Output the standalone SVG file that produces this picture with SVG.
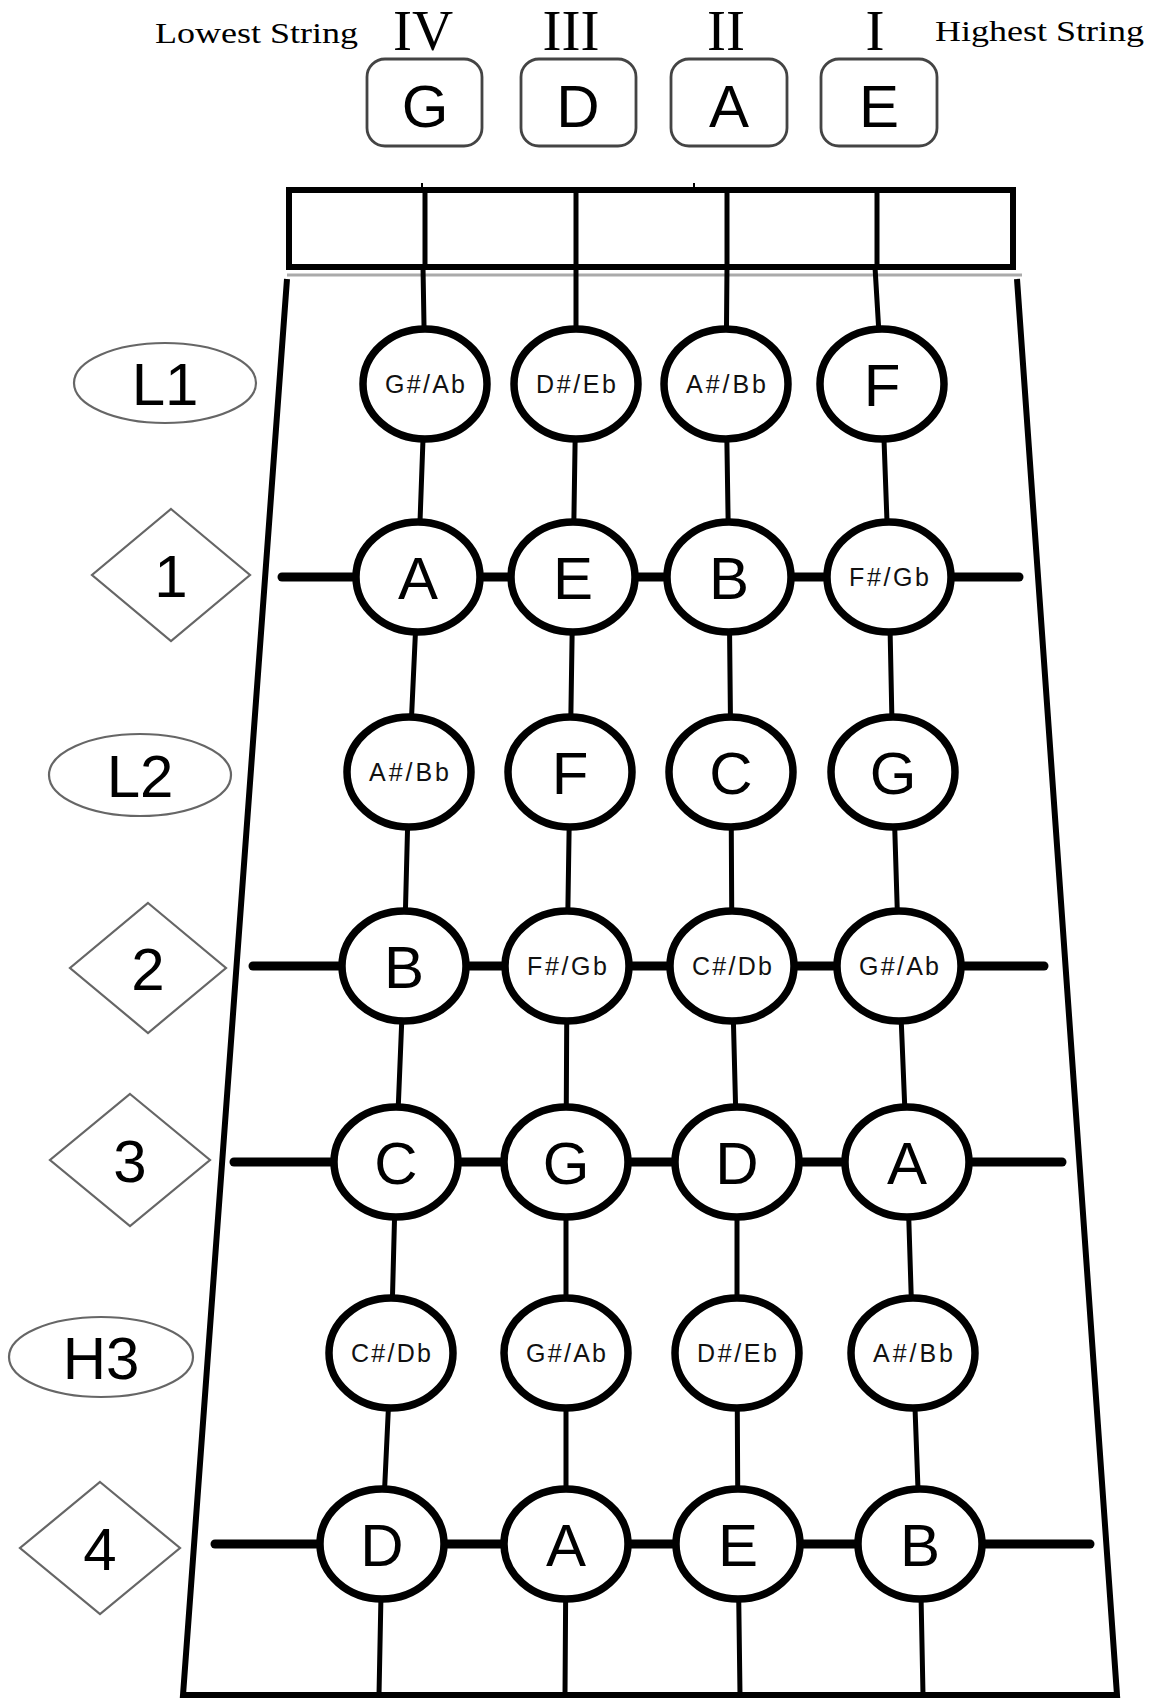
<svg xmlns="http://www.w3.org/2000/svg" width="1154" height="1700" viewBox="0 0 1154 1700">
<style>
.bg{fill:#fff}
.roman{font-family:"Liberation Serif",serif;font-size:57px;fill:#000;text-anchor:middle}
.side{font-family:"Liberation Serif",serif;font-size:30px;fill:#000}
.box{fill:#fff;stroke:#444;stroke-width:2.8}
.boxt{font-family:"Liberation Sans",Arial,sans-serif;font-size:60px;fill:#000;text-anchor:middle}
.lab{fill:#fff;stroke:#666;stroke-width:2.2}
.labt{font-family:"Liberation Sans",Arial,sans-serif;font-size:60px;fill:#000;text-anchor:middle}
.note{fill:#fff;stroke:#000;stroke-width:7.5}
.big{font-family:"Liberation Sans",Arial,sans-serif;font-size:60px;fill:#000;text-anchor:middle}
.sm{font-family:"Liberation Sans",Arial,sans-serif;font-size:25px;fill:#111;text-anchor:middle}
.str{stroke:#000;stroke-width:5;fill:none}
.fret{stroke:#000;stroke-width:9;stroke-linecap:round}
.board{stroke:#000;stroke-width:6;fill:none}
</style>
<rect class="bg" x="0" y="0" width="1154" height="1700"/>

<g id="header">
  <text class="side" x="155" y="43" textLength="203" lengthAdjust="spacingAndGlyphs">Lowest String</text>
  <text class="side" x="935" y="41" textLength="209" lengthAdjust="spacingAndGlyphs">Highest String</text>
  <text class="roman" x="423" y="50">IV</text>
  <text class="roman" x="571" y="50">III</text>
  <text class="roman" x="726" y="50">II</text>
  <text class="roman" x="875" y="50">I</text>
</g>

<g id="open-G"><rect class="box" x="367" y="59" width="115" height="87" rx="18"/><text class="boxt" x="425" y="127">G</text></g>
<g id="open-D"><rect class="box" x="521" y="59" width="115" height="87" rx="18"/><text class="boxt" x="578" y="127">D</text></g>
<g id="open-A"><rect class="box" x="671" y="59" width="116" height="87" rx="18"/><text class="boxt" x="729" y="127">A</text></g>
<g id="open-E"><rect class="box" x="821" y="59" width="116" height="87" rx="18"/><text class="boxt" x="879" y="127">E</text></g>

<g id="nut">
  <rect x="289" y="190" width="724" height="77" fill="#fff" stroke="#000" stroke-width="6"/>
  <line x1="425" y1="190" x2="425" y2="267" stroke="#000" stroke-width="5"/>
  <line x1="576" y1="190" x2="576" y2="267" stroke="#000" stroke-width="5"/>
  <line x1="727" y1="190" x2="727" y2="267" stroke="#000" stroke-width="5"/>
  <line x1="877" y1="190" x2="877" y2="267" stroke="#000" stroke-width="5"/>
  <line x1="422" y1="183" x2="422" y2="188" stroke="#000" stroke-width="2"/>
  <line x1="694" y1="183" x2="694" y2="188" stroke="#000" stroke-width="2"/>
</g>

<g id="fingerboard">
  <line x1="287" y1="275" x2="1022" y2="275" stroke="#aaa" stroke-width="3"/>
  <polyline class="board" points="287,279 183,1695 1117,1695 1017,279"/>
</g>

<g id="connectors">
  <polyline class="str" points="423,267 425,384 418,577 409,772 404,966 396,1162 391,1353 382,1544 379,1695"/>
  <polyline class="str" points="576,267 576,384 573,577 570,772 567,966 566,1162 566,1353 566,1544 565,1695"/>
  <polyline class="str" points="727,267 726,384 729,577 731,772 732,966 737,1162 737,1353 738,1544 740,1695"/>
  <polyline class="str" points="875,267 882,384 889,577 893,772 899,966 907,1162 913,1353 920,1544 923,1695"/>
  <line class="fret" x1="282" y1="577" x2="1019" y2="577"/>
  <line class="fret" x1="253" y1="966" x2="1044" y2="966"/>
  <line class="fret" x1="234" y1="1162" x2="1062" y2="1162"/>
  <line class="fret" x1="215" y1="1544" x2="1090" y2="1544"/>
</g>

<g id="label-L1"><ellipse class="lab" cx="165" cy="383" rx="91" ry="40"/><text class="labt" x="165" y="405">L1</text></g>
<g id="label-1"><polygon class="lab" points="171,509 250,575 171,641 92,575"/><text class="labt" x="171" y="597">1</text></g>
<g id="label-L2"><ellipse class="lab" cx="140" cy="775" rx="91" ry="41"/><text class="labt" x="140" y="797">L2</text></g>
<g id="label-2"><polygon class="lab" points="148,903 226,968 148,1033 70,968"/><text class="labt" x="148" y="990">2</text></g>
<g id="label-3"><polygon class="lab" points="130,1094 210,1160 130,1226 50,1160"/><text class="labt" x="130" y="1182">3</text></g>
<g id="label-H3"><ellipse class="lab" cx="101" cy="1357" rx="92" ry="40"/><text class="labt" x="101" y="1379">H3</text></g>
<g id="label-4"><polygon class="lab" points="100,1482 180,1548 100,1614 20,1548"/><text class="labt" x="100" y="1570">4</text></g>

<g id="n-L1-G"><ellipse class="note" cx="425" cy="384" rx="62" ry="55"/><text class="sm" x="425" y="393" textLength="80" lengthAdjust="spacing">G#/Ab</text></g>
<g id="n-L1-D"><ellipse class="note" cx="576" cy="384" rx="62" ry="55"/><text class="sm" x="576" y="393" textLength="80" lengthAdjust="spacing">D#/Eb</text></g>
<g id="n-L1-A"><ellipse class="note" cx="726" cy="384" rx="62" ry="55"/><text class="sm" x="726" y="393" textLength="80" lengthAdjust="spacing">A#/Bb</text></g>
<g id="n-L1-E"><ellipse class="note" cx="882" cy="384" rx="62" ry="55"/><text class="big" x="882" y="406">F</text></g>

<g id="n-1-G"><ellipse class="note" cx="418" cy="577" rx="62" ry="55"/><text class="big" x="418" y="599">A</text></g>
<g id="n-1-D"><ellipse class="note" cx="573" cy="577" rx="62" ry="55"/><text class="big" x="573" y="599">E</text></g>
<g id="n-1-A"><ellipse class="note" cx="729" cy="577" rx="62" ry="55"/><text class="big" x="729" y="599">B</text></g>
<g id="n-1-E"><ellipse class="note" cx="889" cy="577" rx="62" ry="55"/><text class="sm" x="889" y="586" textLength="80" lengthAdjust="spacing">F#/Gb</text></g>

<g id="n-L2-G"><ellipse class="note" cx="409" cy="772" rx="62" ry="55"/><text class="sm" x="409" y="781" textLength="80" lengthAdjust="spacing">A#/Bb</text></g>
<g id="n-L2-D"><ellipse class="note" cx="570" cy="772" rx="62" ry="55"/><text class="big" x="570" y="794">F</text></g>
<g id="n-L2-A"><ellipse class="note" cx="731" cy="772" rx="62" ry="55"/><text class="big" x="731" y="794">C</text></g>
<g id="n-L2-E"><ellipse class="note" cx="893" cy="772" rx="62" ry="55"/><text class="big" x="893" y="794">G</text></g>

<g id="n-2-G"><ellipse class="note" cx="404" cy="966" rx="62" ry="55"/><text class="big" x="404" y="988">B</text></g>
<g id="n-2-D"><ellipse class="note" cx="567" cy="966" rx="62" ry="55"/><text class="sm" x="567" y="975" textLength="80" lengthAdjust="spacing">F#/Gb</text></g>
<g id="n-2-A"><ellipse class="note" cx="732" cy="966" rx="62" ry="55"/><text class="sm" x="732" y="975" textLength="80" lengthAdjust="spacing">C#/Db</text></g>
<g id="n-2-E"><ellipse class="note" cx="899" cy="966" rx="62" ry="55"/><text class="sm" x="899" y="975" textLength="80" lengthAdjust="spacing">G#/Ab</text></g>

<g id="n-3-G"><ellipse class="note" cx="396" cy="1162" rx="62" ry="55"/><text class="big" x="396" y="1184">C</text></g>
<g id="n-3-D"><ellipse class="note" cx="566" cy="1162" rx="62" ry="55"/><text class="big" x="566" y="1184">G</text></g>
<g id="n-3-A"><ellipse class="note" cx="737" cy="1162" rx="62" ry="55"/><text class="big" x="737" y="1184">D</text></g>
<g id="n-3-E"><ellipse class="note" cx="907" cy="1162" rx="62" ry="55"/><text class="big" x="907" y="1184">A</text></g>

<g id="n-H3-G"><ellipse class="note" cx="391" cy="1353" rx="62" ry="55"/><text class="sm" x="391" y="1362" textLength="80" lengthAdjust="spacing">C#/Db</text></g>
<g id="n-H3-D"><ellipse class="note" cx="566" cy="1353" rx="62" ry="55"/><text class="sm" x="566" y="1362" textLength="80" lengthAdjust="spacing">G#/Ab</text></g>
<g id="n-H3-A"><ellipse class="note" cx="737" cy="1353" rx="62" ry="55"/><text class="sm" x="737" y="1362" textLength="80" lengthAdjust="spacing">D#/Eb</text></g>
<g id="n-H3-E"><ellipse class="note" cx="913" cy="1353" rx="62" ry="55"/><text class="sm" x="913" y="1362" textLength="80" lengthAdjust="spacing">A#/Bb</text></g>

<g id="n-4-G"><ellipse class="note" cx="382" cy="1544" rx="62" ry="55"/><text class="big" x="382" y="1566">D</text></g>
<g id="n-4-D"><ellipse class="note" cx="566" cy="1544" rx="62" ry="55"/><text class="big" x="566" y="1566">A</text></g>
<g id="n-4-A"><ellipse class="note" cx="738" cy="1544" rx="62" ry="55"/><text class="big" x="738" y="1566">E</text></g>
<g id="n-4-E"><ellipse class="note" cx="920" cy="1544" rx="62" ry="55"/><text class="big" x="920" y="1566">B</text></g>
</svg>
